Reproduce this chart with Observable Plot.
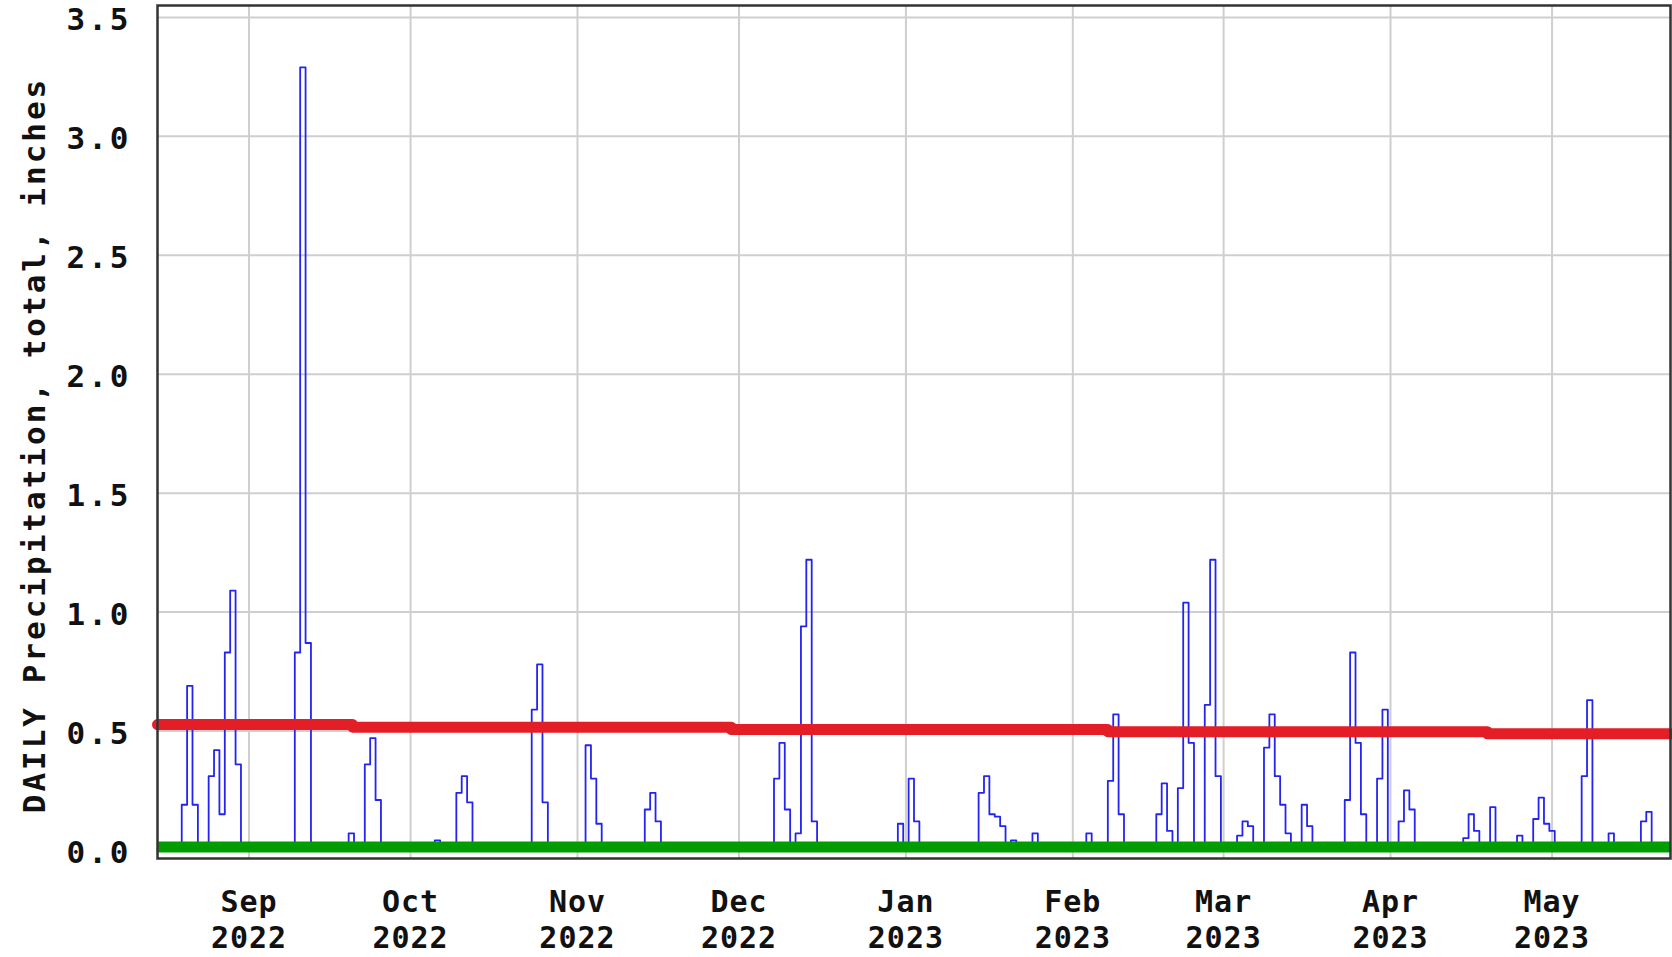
<!DOCTYPE html>
<html>
<head>
<meta charset="utf-8">
<script src="https://cdn.jsdelivr.net/npm/d3@7"></script>
<script src="https://cdn.jsdelivr.net/npm/@observablehq/plot@0.6"></script>
<style>
  html, body { margin: 0; padding: 0; background: #ffffff; }
  #chart svg { display: block; }
  #chart [aria-label="y-axis tick label"] { letter-spacing: 3px; }
  #chart [aria-label="x-axis tick label"] { letter-spacing: 1px; }
  #chart [aria-label="y-axis label"] { letter-spacing: 3px; }
</style>
</head>
<body>
<div id="chart"></div>
<script>
// ---- Data ----
// Days with measurable precipitation (all other days read as 0.00 in)
const rainDates = [
  "2022-08-20","2022-08-21","2022-08-22","2022-08-25","2022-08-26","2022-08-27","2022-08-28","2022-08-29","2022-08-30",
  "2022-09-10","2022-09-11","2022-09-12","2022-09-20","2022-09-23","2022-09-24","2022-09-25",
  "2022-10-06","2022-10-10","2022-10-11","2022-10-12","2022-10-24","2022-10-25","2022-10-26",
  "2022-11-03","2022-11-04","2022-11-05","2022-11-14","2022-11-15","2022-11-16","2022-11-27",
  "2022-12-08","2022-12-09","2022-12-10","2022-12-12","2022-12-13","2022-12-14","2022-12-15","2022-12-31",
  "2023-01-01","2023-01-02","2023-01-03","2023-01-15","2023-01-16","2023-01-17","2023-01-18","2023-01-19","2023-01-21","2023-01-25",
  "2023-02-04","2023-02-08","2023-02-09","2023-02-10","2023-02-14","2023-02-17","2023-02-18","2023-02-19",
  "2023-02-21","2023-02-22","2023-02-23","2023-02-26","2023-02-27","2023-02-28",
  "2023-03-04","2023-03-05","2023-03-06","2023-03-09","2023-03-10","2023-03-11","2023-03-12","2023-03-13",
  "2023-03-16","2023-03-17","2023-03-24","2023-03-25","2023-03-26","2023-03-27","2023-03-30","2023-03-31",
  "2023-04-03","2023-04-04","2023-04-05","2023-04-15","2023-04-16","2023-04-17","2023-04-20","2023-04-25",
  "2023-04-28","2023-04-29","2023-04-30","2023-05-01","2023-05-07","2023-05-08","2023-05-12","2023-05-18","2023-05-19"
];
const rainInches = [
  0.19,0.69,0.19,0.31,0.42,0.15,0.83,1.09,0.36,
  0.83,3.29,0.87,0.07,0.36,0.47,0.21,
  0.04,0.24,0.31,0.20,0.59,0.78,0.20,
  0.44,0.30,0.11,0.17,0.24,0.12,0.03,
  0.30,0.45,0.17,0.07,0.94,1.22,0.12,0.11,
  0.03,0.30,0.12,0.24,0.31,0.15,0.14,0.10,0.04,0.07,
  0.07,0.29,0.57,0.15,0.03,0.15,0.28,0.08,
  0.26,1.04,0.45,0.61,1.22,0.31,
  0.06,0.12,0.10,0.43,0.57,0.31,0.19,0.07,
  0.19,0.10,0.21,0.83,0.45,0.15,0.30,0.59,
  0.12,0.25,0.17,0.05,0.15,0.08,0.18,0.06,
  0.13,0.22,0.11,0.08,0.31,0.63,0.07,0.12,0.16
];
// Normal daily precipitation (red step line)
const normalDates = ["2022-08-15T00:00Z","2022-09-20T06:00Z","2022-11-29T14:00Z","2023-02-07T12:00Z","2023-04-19T00:00Z","2023-05-23T00:00Z"];
const normalInches = [0.527, 0.516, 0.506, 0.497, 0.488, 0.488];
// Axis ticks
const monthTicks = ["2022-09-01","2022-10-01","2022-11-01","2022-12-01","2023-01-01","2023-02-01","2023-03-01","2023-04-01","2023-05-01"];
const monthLabels = ["Sep\n2022","Oct\n2022","Nov\n2022","Dec\n2022","Jan\n2023","Feb\n2023","Mar\n2023","Apr\n2023","May\n2023"];
const yTicks = [0, 0.5, 1.0, 1.5, 2.0, 2.5, 3.0, 3.5];
const startDate = "2022-08-15";
const endDate = "2023-05-23";

// ---- Build tables ----
const start = new Date(startDate), end = new Date(endDate);
const rainByDay = new Map(rainDates.map((d, i) => [+new Date(d), rainInches[i]]));
const daily = d3.utcDay.range(start, d3.utcDay.offset(end, 1))
  .map(d => ({date: d, inches: rainByDay.has(+d) ? rainByDay.get(+d) : 0}));
const normal = normalDates.map((d, i) => ({date: new Date(d), inches: normalInches[i]}));
const tickDates = monthTicks.map(d => new Date(d));
const labelMap = new Map(tickDates.map((d, i) => [+d, monthLabels[i]]));

const chart = Plot.plot({
  width: 1672,
  height: 957,
  marginLeft: 157,
  marginRight: 2,
  marginTop: 5,
  marginBottom: 99,
  style: {fontFamily: "'DejaVu Sans Mono', monospace", fontWeight: "bold", fontSize: "31px", background: "#ffffff", color: "#111"},
  x: {type: "utc", domain: [start, end]},
  y: {domain: [-0.036, 3.55]},
  marks: [
    Plot.gridX(tickDates, {stroke: "#cfcfcf", strokeOpacity: 1, strokeWidth: 2}),
    Plot.gridY(yTicks, {stroke: "#cfcfcf", strokeOpacity: 1, strokeWidth: 2}),
    Plot.line(daily, {x: "date", y: "inches", curve: "step", stroke: "#2424f0", strokeWidth: 1.8}),
    Plot.line(normal, {x: "date", y: "inches", curve: "step-after", stroke: "#e41e26", strokeWidth: 11}),
    Plot.ruleY([0], {stroke: "#009c00", strokeWidth: 11, dy: -3}),
    Plot.frame({stroke: "#333", strokeWidth: 2.5}),
    Plot.axisX(tickDates, {tickSize: 0, tickPadding: 27, tickFormat: d => labelMap.get(+d), lineHeight: 1.22, fontSize: 30, label: null}),
    Plot.axisY(yTicks, {tickSize: 0, tickPadding: 26, dy: 3, tickFormat: d3.format(".1f"), fontSize: 31,
      label: "DAILY Precipitation, total, inches", labelAnchor: "center", labelOffset: 135, labelArrow: "none"})
  ]
});
// nudge the rotated axis title down to where the reference centres it
const yLabel = chart.querySelector('[aria-label="y-axis label"]');
if (yLabel) {
  const t = yLabel.getAttribute("transform") || "";
  yLabel.setAttribute("transform", "translate(0,13) " + t);
}
document.getElementById("chart").appendChild(chart);
</script>
</body>
</html>
